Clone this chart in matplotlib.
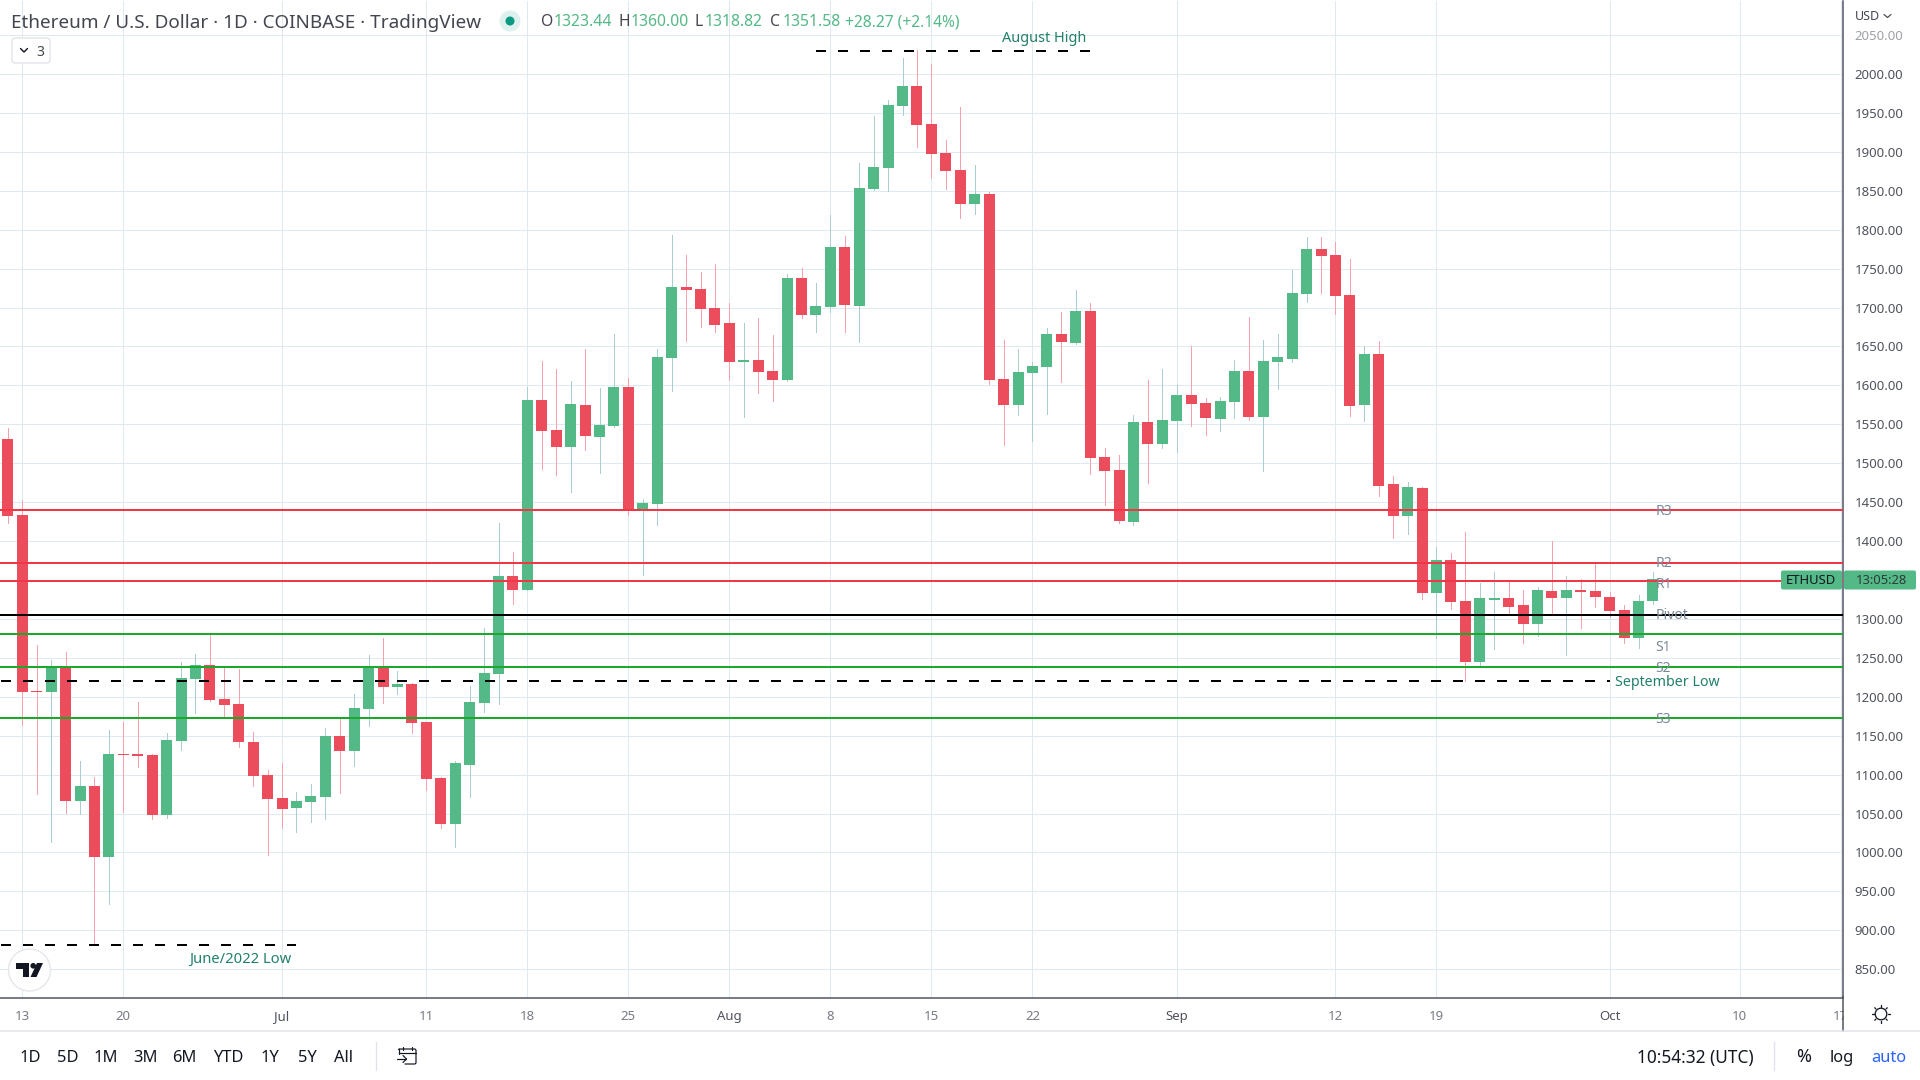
import numpy as np
import pandas as pd
import matplotlib
matplotlib.use('Agg')
from matplotlib import pyplot as plt
from matplotlib import dates as mdates
from matplotlib.patches import Circle, FancyBboxPatch, Polygon, Rectangle

plt.rcParams['font.family'] = ['Noto Sans', 'DejaVu Sans']

# ── data ──────────────────────────────────────────────────────────────────────

first_day = '2022-06-12'

opens = [
    1531.2, 1434.0, 1207.4, 1206.0, 1238.0, 1066.0, 1085.3, 993.6, 1126.6, 1126.6,
    1125.3, 1048.2, 1143.1, 1222.9, 1240.8, 1197.3, 1190.8, 1141.7, 1099.5, 1070.2,
    1057.4, 1064.7, 1071.1, 1149.5, 1130.3, 1184.4, 1238.0, 1212.4, 1216.5, 1167.4,
    1095.9, 1036.7, 1112.4, 1192.2, 1229.4, 1355.0, 1337.4, 1581.8, 1543.2, 1521.3,
    1575.3, 1534.2, 1548.3, 1598.5, 1440.3, 1448.0, 1635.8, 1725.8, 1723.3, 1698.8,
    1679.5, 1629.4, 1632.0, 1619.0, 1607.5, 1737.4, 1689.8, 1700.1, 1777.3, 1702.4,
    1852.7, 1879.7, 1959.3, 1985.0, 1936.2, 1899.0, 1877.1, 1833.4, 1846.3, 1608.6,
    1575.2, 1616.3, 1624.0, 1666.4, 1654.8, 1695.9, 1508.3, 1491.9, 1424.9, 1552.5,
    1524.1, 1553.8, 1587.3, 1577.0, 1556.3, 1578.3, 1618.2, 1558.9, 1629.8, 1634.3,
    1718.0, 1774.6, 1766.9, 1716.7, 1574.4, 1640.1, 1473.9, 1432.6, 1468.4, 1333.8,
    1376.1, 1323.5, 1245.2, 1324.7, 1327.3, 1318.3, 1294.0, 1336.3, 1327.3, 1337.5,
    1336.3, 1328.6, 1311.9, 1276.0, 1323.44,
]
highs = [
    1545.4, 1452.3, 1266.5, 1247.3, 1257.3, 1117.4, 1096.8, 1157.4, 1167.4, 1193.1,
    1126.6, 1153.7, 1244.5, 1255.0, 1279.8, 1237.6, 1235.8, 1154.6, 1106.0, 1115.1,
    1077.5, 1088.1, 1160.1, 1171.1, 1203.7, 1253.7, 1275.7, 1233.0, 1218.3, 1167.4,
    1096.8, 1117.4, 1213.8, 1288.5, 1423.4, 1385.8, 1598.5, 1631.9, 1621.6, 1606.2,
    1646.1, 1597.2, 1665.4, 1610.0, 1454.4, 1646.1, 1792.7, 1767.0, 1745.1, 1755.4,
    1705.2, 1679.5, 1686.0, 1664.1, 1742.5, 1750.3, 1731.0, 1818.4, 1791.4, 1886.1,
    1946.5, 1967.0, 2021.0, 2031.3, 2013.3, 1915.7, 1958.1, 1883.5, 1848.8, 1658.7,
    1647.1, 1630.4, 1674.1, 1694.7, 1722.9, 1706.2, 1519.9, 1511.2, 1561.5, 1606.6,
    1620.8, 1600.2, 1650.4, 1583.4, 1584.7, 1632.4, 1687.8, 1658.2, 1665.9, 1747.6,
    1790.1, 1790.1, 1783.7, 1761.8, 1650.4, 1656.9, 1484.2, 1476.4, 1469.7, 1392.8,
    1385.1, 1411.9, 1346.5, 1360.6, 1347.8, 1337.5, 1341.4, 1400.4, 1355.5, 1351.7,
    1371.8, 1335.0, 1318.3, 1331.2, 1360.0,
]
lows = [
    1423.4, 1164.2, 1075.2, 1013.3, 1051.0, 1049.5, 881.0, 934.0, 1051.8, 1109.2,
    1043.1, 1044.5, 1132.1, 1179.4, 1194.5, 1172.5, 1135.3, 1085.3, 996.8, 1031.7,
    1026.2, 1038.5, 1043.1, 1076.6, 1111.0, 1162.4, 1192.2, 1203.7, 1153.7, 1080.7,
    1031.7, 1006.4, 1071.1, 1180.3, 1190.8, 1319.3, 1336.6, 1493.0, 1485.3, 1463.5,
    1517.5, 1487.9, 1547.0, 1433.9, 1356.7, 1421.0, 1593.4, 1656.4, 1674.4, 1668.0,
    1607.5, 1560.0, 1590.8, 1580.5, 1606.2, 1686.0, 1669.2, 1693.7, 1669.2, 1656.1,
    1851.4, 1850.1, 1947.8, 1906.7, 1866.8, 1852.7, 1815.4, 1820.6, 1602.2, 1523.8,
    1562.3, 1528.9, 1563.6, 1604.7, 1653.5, 1486.5, 1446.7, 1423.6, 1421.0, 1475.2,
    1520.0, 1513.8, 1547.3, 1535.7, 1540.9, 1557.6, 1555.0, 1490.6, 1595.0, 1630.4,
    1707.7, 1719.3, 1692.2, 1560.8, 1553.8, 1458.4, 1404.3, 1409.4, 1326.1, 1275.0,
    1313.3, 1220.9, 1240.1, 1261.9, 1306.8, 1269.6, 1278.6, 1306.8, 1254.2, 1288.8,
    1315.8, 1303.0, 1269.6, 1263.2, 1318.82,
]
closes = [
    1432.1, 1206.0, 1206.0, 1238.5, 1066.0, 1085.3, 993.6, 1126.6, 1125.3, 1123.9,
    1048.2, 1144.5, 1224.3, 1240.8, 1195.9, 1189.5, 1141.7, 1098.2, 1068.8, 1056.0,
    1066.0, 1072.5, 1149.5, 1130.3, 1185.8, 1238.5, 1212.4, 1216.5, 1166.5, 1094.5,
    1036.7, 1115.1, 1193.1, 1230.7, 1355.0, 1337.2, 1581.8, 1541.9, 1521.3, 1576.6,
    1535.5, 1549.6, 1598.5, 1439.0, 1449.3, 1637.0, 1725.8, 1722.0, 1697.5, 1678.2,
    1629.4, 1632.0, 1617.8, 1607.5, 1737.4, 1689.8, 1701.4, 1777.3, 1702.7, 1854.0,
    1881.0, 1960.6, 1985.0, 1935.0, 1897.7, 1875.8, 1833.4, 1846.3, 1607.3, 1575.2,
    1617.6, 1625.3, 1666.4, 1656.1, 1695.9, 1507.0, 1490.4, 1426.2, 1552.5, 1524.1,
    1555.0, 1587.3, 1575.7, 1557.6, 1579.5, 1618.2, 1558.9, 1631.1, 1636.2, 1719.3,
    1774.6, 1765.6, 1715.4, 1573.7, 1640.1, 1471.3, 1432.6, 1470.0, 1333.8, 1376.1,
    1322.3, 1245.2, 1327.3, 1327.3, 1315.8, 1294.0, 1337.5, 1327.3, 1337.5, 1335.0,
    1328.6, 1310.6, 1276.0, 1323.5, 1351.58,
]

level_names = ['R3', 'R2', 'R1', 'Pivot', 'S1', 'S2', 'S3']
level_prices = [1439.3, 1372.2, 1348.2, 1305.5, 1281.1, 1238.8, 1172.2]
level_colors = ['#f23645', '#f23645', '#f23645', '#000000', '#1aa82d', '#1aa82d', '#1aa82d']

june_low = 881.0
june_low_span = ['2022-06-11 12:00', '2022-07-02 00:00']
august_high = 2030.0
august_high_span = ['2022-08-07 00:00', '2022-08-26 00:00']
september_low = 1220.9
september_low_span = ['2022-06-11 12:00', '2022-10-01 00:00']

price_ticks = list(range(850, 2051, 50))
hidden_price_label = 1350  # sits under the last price tag in the reference
date_ticks = ['2022-06-13', '2022-06-20', '2022-07-01', '2022-07-11', '2022-07-18', '2022-07-25',
              '2022-08-01', '2022-08-08', '2022-08-15', '2022-08-22', '2022-09-01', '2022-09-12',
              '2022-09-19', '2022-10-01', '2022-10-10', '2022-10-17']
date_labels = ['13', '20', 'Jul', '11', '18', '25', 'Aug', '8', '15', '22', 'Sep', '12', '19', 'Oct', '10', '17']
month_labels = ['Jul', 'Aug', 'Sep', 'Oct']

range_buttons = ['1D', '5D', '1M', '3M', '6M', 'YTD', '1Y', '5Y', 'All']
range_button_x = [30, 68, 106, 145, 184, 228, 270, 307, 344]

# ── styles ────────────────────────────────────────────────────────────────────

UP = '#53b987'
DOWN = '#eb4d5c'
UP_WICK = '#a9cdd0'
DOWN_WICK = '#f7a1ad'
GRID = '#deeaf0'
AXIS = '#50535e'
DARK = '#131722'
NOTE = '#22806b'
LEVEL_TEXT = '#7c8a99'
PX = 0.72  # one pixel in points at dpi 100

fig = plt.figure(figsize=(19.2, 10.8), dpi=100, facecolor='white')

# chart pane: x 0-1843, y 0-997 in picture pixels
ax = fig.add_axes([0, 82.5 / 1080, 1843 / 1920, 997 / 1080])

x = mdates.date2num(pd.date_range(first_day, periods=len(opens)))
o, h, l, c = map(np.array, (opens, highs, lows, closes))
up = c >= o

ax.vlines(x, l, h, colors=[UP_WICK if u else DOWN_WICK for u in up], linewidth=PX,
          antialiased=False, zorder=2)
ax.bar(x, np.abs(c - o), bottom=np.minimum(o, c), width=0.762,
       color=[UP if u else DOWN for u in up], linewidth=0, antialiased=False, zorder=3)

for price, color in zip(level_prices, level_colors):
    ax.axhline(price, color=color, linewidth=2 * PX, zorder=4)

for price, span in [(june_low, june_low_span), (august_high, august_high_span), (september_low, september_low_span)]:
    xs = mdates.date2num(pd.to_datetime(span))
    ax.plot(xs, [price, price], color='black', linewidth=2 * PX, linestyle=(0, (5, 6)), zorder=5)

x0 = mdates.date2num(pd.Timestamp('2022-06-13'))
ax.set_xlim(x0 - 1.545, x0 + 126.17)
ax.set_ylim(813.7, 2094.4)

ax.set_yticks(price_ticks)
ax.set_yticklabels(['' if p == hidden_price_label else f'{p:.2f}' for p in price_ticks])
ax.set_xticks(mdates.date2num(pd.to_datetime(date_ticks)))
ax.set_xticklabels(date_labels)
ax.yaxis.tick_right()
ax.tick_params(axis='y', length=0, pad=8.2, labelsize=9.5, labelcolor=AXIS)
ax.tick_params(axis='x', length=0, pad=9, labelsize=9.5, labelcolor='#787b86')
ax.grid(True, color=GRID, linewidth=PX, zorder=0)
ax.set_axisbelow(True)
ax.spines[['left', 'top']].set_visible(False)
ax.spines[['right', 'bottom']].set_color(AXIS)
ax.spines[['right', 'bottom']].set_linewidth(1.5 * PX)
for lab in ax.get_xticklabels():
    if lab.get_text() in month_labels:
        lab.set_fontweight('bold')
        lab.set_color(AXIS)
ax.get_yticklabels()[-1].set_alpha(0.55)

# overlay in picture pixels for the interface bits around the chart
ui = fig.add_axes([0, 0, 1, 1], facecolor='none')
ui.set_xlim(0, 1920)
ui.set_ylim(1080, 0)
ui.axis('off')


def label(x_px, y_px, s, size=15, color=DARK, ha='left', **kw):
    # va=center sits a little high for this font
    ui.text(x_px, y_px + 1.5, s, fontsize=size * PX, color=color, ha=ha, va='center', **kw)


def stroke(xs, ys, color=DARK, width=1.3):
    ui.plot(xs, ys, color=color, linewidth=width * PX, solid_capstyle='round', solid_joinstyle='round')


# level names and chart notes
for name, y_px in zip(level_names, [510, 561.7, 582.7, 614, 645.7, 666.7, 717.7]):
    label(1655.7, y_px, name, size=14, color=LEVEL_TEXT, zorder=1)
label(1044, 37, 'August High', size=14.5, color=NOTE, ha='center')
label(240, 957.5, 'June/2022 Low', size=14.8, color=NOTE, ha='center')
label(1615, 681, 'September Low', size=14.2, color=NOTE)

# header
label(11, 21, 'Ethereum / U.S. Dollar · 1D · COINBASE · TradingView', size=18.9, color='#434651')
ui.add_patch(Circle((510, 21), 10.5, facecolor='#dff1ee', edgecolor='none'))
ui.add_patch(Circle((510, 21), 4.5, facecolor='#089981', edgecolor='none'))
for letter, lx, value, vx in [('O', 541, '1323.44', 553.5), ('H', 618.5, '1360.00', 630.6),
                              ('L', 694, '1318.82', 705), ('C', 770, '1351.58', 783)]:
    label(lx, 21, letter, size=15.7, color='#434651')
    label(vx, 21, value, size=15.7, color=UP)
label(845, 21, '+28.27 (+2.14%)', size=15.6, color=UP)

# collapsed indicators button
ui.add_patch(FancyBboxPatch((12, 38), 38, 25, boxstyle='round,pad=0,rounding_size=3',
                            facecolor='white', edgecolor='#d6dbe3', linewidth=PX))
stroke([20.5, 24, 27.5], [48.5, 52, 48.5], width=1.4)
label(36, 50.5, '3', size=14, color='#434651')

# TradingView badge
ui.add_patch(Circle((29.5, 970), 21, facecolor='white', edgecolor='#e6e8ec', linewidth=1.5 * PX))
ui.add_patch(Polygon([(16, 963), (29, 963), (29, 977), (23, 977), (23, 968.5), (16, 968.5)], facecolor=DARK))
ui.add_patch(Circle((33.2, 965.8), 2.8, facecolor=DARK))
ui.add_patch(Polygon([(37, 963), (43, 963), (36.5, 977), (30.5, 977)], facecolor=DARK))

# price axis cover so the last date label stops at the scale
ui.add_patch(Rectangle((1844, 998), 76, 33, facecolor='white', edgecolor='none'))
ui.plot([1843, 1843], [997, 1031], color=AXIS, linewidth=1.5 * PX)
ui.plot([0, 1920], [1031, 1031], color='#e0e3eb', linewidth=1.5 * PX)
label(1855, 15, 'USD', size=12.5, color='#434651')
stroke([1884, 1887.5, 1891], [14.5, 17.5, 14.5], color='#434651', width=1.2)

# last price tag
ui.add_patch(FancyBboxPatch((1781, 570.5), 61, 19, boxstyle='round,pad=0,rounding_size=2', facecolor=UP, edgecolor='none'))
ui.add_patch(FancyBboxPatch((1844, 570.5), 72, 19, boxstyle='round,pad=0,rounding_size=2', facecolor=UP, edgecolor='none'))
label(1811, 579, 'ETHUSD', size=13, color=DARK, ha='center')
label(1882, 579, '13:05:28', size=13, color='#2f3a3a', ha='center')

# settings gear
ui.add_patch(Circle((1881, 1014), 5.8, facecolor='none', edgecolor=DARK, linewidth=1.3 * PX))
for a in np.deg2rad(np.arange(0, 360, 45)):
    stroke([1881 + 7.2 * np.cos(a), 1881 + 8.8 * np.cos(a)], [1014 + 7.2 * np.sin(a), 1014 + 8.8 * np.sin(a)])

# bottom bar
for name, bx in zip(range_buttons, range_button_x):
    label(bx, 1056, name, size=16.5, ha='center')
ui.plot([376, 376], [1042, 1070], color='#e0e3eb', linewidth=1.3 * PX)
ui.plot([1774, 1774], [1042, 1070], color='#e0e3eb', linewidth=1.3 * PX)
stroke([399, 399, 397.5], [1054, 1049, 1049], width=1.2)
stroke([399, 415, 416, 416, 415, 405], [1049, 1049, 1050, 1063, 1064, 1064], width=1.2)
stroke([399, 416], [1053, 1053], width=1.2)
stroke([403, 403], [1046.5, 1050], width=1.2)
stroke([412, 412], [1046.5, 1050], width=1.2)
stroke([397, 406], [1059, 1059], width=1.2)
stroke([403, 406.5, 403], [1055.5, 1059, 1062.5], width=1.2)
label(1637, 1056, '10:54:32 (UTC)', size=17.3)
label(1804, 1056, '%', size=18, ha='center')
label(1842, 1056, 'log', size=16.5, ha='center')
label(1889, 1056, 'auto', size=16.5, color='#2962ff', ha='center')

fig.savefig('out.png', dpi=100)
